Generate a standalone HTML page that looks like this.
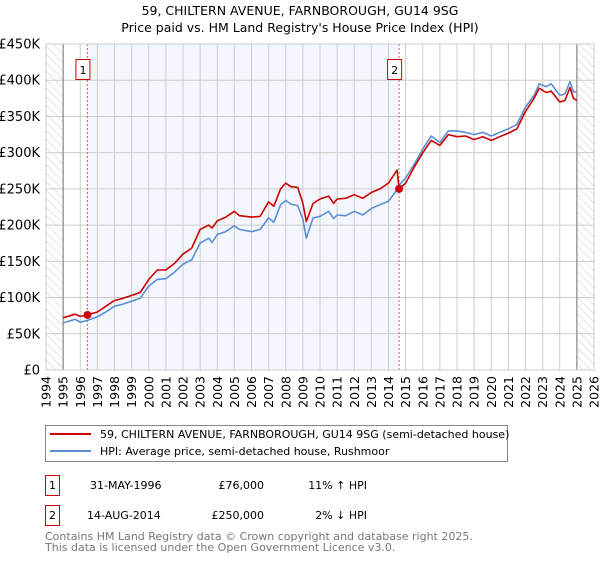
<!DOCTYPE html>
<html><head><meta charset="utf-8"><style>
body{margin:0;background:#fff;font-family:"DejaVu Sans","Liberation Sans",sans-serif;}
svg text{font-family:"DejaVu Sans","Liberation Sans",sans-serif;}
</style></head><body>
<svg id="c" width="600" height="560" xmlns="http://www.w3.org/2000/svg">
<defs><pattern id="hatch" patternUnits="userSpaceOnUse" width="6" height="6" patternTransform="rotate(-45)"><line x1="0" y1="0" x2="0" y2="6" stroke="#ccc" stroke-width="1"/></pattern></defs>
<text x="300" y="15" text-anchor="middle" font-size="12.5">59, CHILTERN AVENUE, FARNBOROUGH, GU14 9SG</text>
<text x="300" y="32" text-anchor="middle" font-size="12.5">Price paid vs. HM Land Registry's House Price Index (HPI)</text>
<g id="plot"></g>
<g>
<rect x="45.5" y="425.5" width="462" height="36" fill="#fff" stroke="#888"/>
<line x1="50" y1="434" x2="91" y2="434" stroke="#cc0000" stroke-width="2"/>
<text x="100" y="438" font-size="11">59, CHILTERN AVENUE, FARNBOROUGH, GU14 9SG (semi-detached house)</text>
<line x1="50" y1="451" x2="91" y2="451" stroke="#5b8fd4" stroke-width="2"/>
<text x="100" y="455" font-size="11">HPI: Average price, semi-detached house, Rushmoor</text>
</g>
<g font-size="11">
<rect x="45.5" y="475.5" width="14" height="20" fill="#fff" stroke="#cc0000"/>
<text x="52.5" y="489" text-anchor="middle">1</text>
<text x="90" y="489">31-MAY-1996</text><text x="264" y="489" text-anchor="end">£76,000</text><text x="367" y="489" text-anchor="end">11% ↑ HPI</text>
<rect x="45.5" y="505.5" width="14" height="20" fill="#fff" stroke="#cc0000"/>
<text x="52.5" y="519" text-anchor="middle">2</text>
<text x="87" y="519">14-AUG-2014</text><text x="264" y="519" text-anchor="end">£250,000</text><text x="367" y="519" text-anchor="end">2% ↓ HPI</text>
</g>
<g font-size="11" fill="#777">
<text x="45" y="540">Contains HM Land Registry data © Crown copyright and database right 2025.</text>
<text x="45" y="551">This data is licensed under the Open Government Licence v3.0.</text>
</g>
</svg>
<script>
const years=[1995,1995.7,1996,1996.42,1997,1997.5,1998,1998.5,1999,1999.5,2000,2000.5,2001,2001.5,2002,2002.5,2003,2003.5,2003.7,2004,2004.5,2005,2005.3,2006,2006.5,2007,2007.3,2007.7,2008,2008.3,2008.7,2009.0,2009.2,2009.6,2010,2010.5,2010.8,2011,2011.5,2012,2012.5,2013,2013.5,2014,2014.5,2014.62,2015,2015.5,2016,2016.5,2017,2017.5,2018,2018.5,2019,2019.5,2020,2020.5,2021,2021.5,2022,2022.5,2022.8,2023.2,2023.5,2024,2024.3,2024.6,2024.8,2025];
const hpiValues=[65,70,66,68.5,73.5,80,88,91,95,99,116,125,126,135,146,152,175,182,176,187,191,199,194,191,194,210,204,228,234,229,227,208,182,210,212,219,209,214,213,219,214,223,228,233,249,255,265,284,305,323,314,330,330,328,325,328,323,328,333,339,363,379,395,391,395,379,381,398,384,384];
const priceValues=[72,77,74,76,80,88,96,99,103,107,125,138,138,147,160,168,194,200,196,206,211,219,213,211,212,232,226,250,258,253,252,230,205,230,236,240,230,236,237,242,237,245,250,258,276,250,258,280,300,317,310,325,322,323,318,322,317,322,327,333,357,375,389,383,385,370,372,390,375,372];
const saleYears=[1996.42,2014.62];
const saleValues=[76,250];
const saleLabels=["1","2"];
const yTicks=[0,50,100,150,200,250,300,350,400,450];
const yTickLabels=["£0","£50K","£100K","£150K","£200K","£250K","£300K","£350K","£400K","£450K"];
const xTicks=[1994,1995,1996,1997,1998,1999,2000,2001,2002,2003,2004,2005,2006,2007,2008,2009,2010,2011,2012,2013,2014,2015,2016,2017,2018,2019,2020,2021,2022,2023,2024,2025,2026];

const L=46,R=594,T=44,B=370,X0=1994,X1=2026,YMAX=450;
const x=v=>L+(v-X0)/(X1-X0)*(R-L);
const y=v=>B-v/YMAX*(B-T);
const NS="http://www.w3.org/2000/svg";
const g=document.getElementById('plot');
function mk(tag,attrs,parent){const e=document.createElementNS(NS,tag);for(const k in attrs)e.setAttribute(k,attrs[k]);(parent||g).appendChild(e);return e;}

let e=mk('rect',{x:L,y:T,width:R-L,height:B-T,fill:'#fff'});


e=mk('rect',{x:x(saleYears[0]),y:T,width:x(saleYears[1])-x(saleYears[0]),height:B-T,fill:'#f3f7fd'});


e=mk('rect',{x:L,y:T,width:x(1995)-L,height:B-T,fill:'url(#hatch)'});


e=mk('rect',{x:x(2025),y:T,width:R-x(2025),height:B-T,fill:'url(#hatch)'});



xTicks.forEach(t=>{
 const l=mk('line',{x1:x(t),x2:x(t),y1:T,y2:B,stroke:'#ccc','stroke-width':1});
 
 
 const tx=mk('text',{x:0,y:0,'font-size':12.5,'text-anchor':'end',transform:`translate(${x(t)+4.5},${B+6}) rotate(-90)`});
 tx.textContent=t;
 
 
});
yTicks.forEach((t,i)=>{
 const l=mk('line',{x1:L,x2:R,y1:y(t),y2:y(t),stroke:'#ccc','stroke-width':1});
 
 
 const tx=mk('text',{x:L-6,y:y(t)+4.5,'font-size':13,'text-anchor':'end'});
 tx.textContent=yTickLabels[i];
 
 
});
[1995,2025].forEach(t=>{
 const l=mk('line',{x1:x(t),x2:x(t),y1:T,y2:B,stroke:'#888','stroke-width':1.2});
 
 
});
saleYears.forEach((s,i)=>{
 const l=mk('line',{x1:x(s),x2:x(s),y1:T,y2:B,stroke:'#e06060','stroke-width':1,'stroke-dasharray':'2,2'});
 
 
 const r=mk('rect',{x:x(s)-11.5,y:59.5,width:14,height:20,fill:'#fff',stroke:'#cc0000'});
 
 
 const tx=mk('text',{x:x(s)-4.5,y:74,'font-size':11,'text-anchor':'middle'});
 tx.textContent=saleLabels[i];
 
 
});
const pts=a=>a.map((v,i)=>x(years[i]).toFixed(1)+','+y(v).toFixed(1)).join(' ');
e=mk('polyline',{points:pts(hpiValues),fill:'none',stroke:'#5b8fd4','stroke-width':1.6,'stroke-linejoin':'round'});


e=mk('polyline',{points:pts(priceValues),fill:'none',stroke:'#cc0000','stroke-width':1.6,'stroke-linejoin':'round'});


saleYears.forEach((s,i)=>{
 const c=mk('circle',{cx:x(s),cy:y(saleValues[i]),r:4,fill:'#cc0000'});
 
 
});
e=mk('rect',{x:L,y:T,width:R-L,height:B-T,fill:'none',stroke:'#ccc'});


</script>
</body></html>
